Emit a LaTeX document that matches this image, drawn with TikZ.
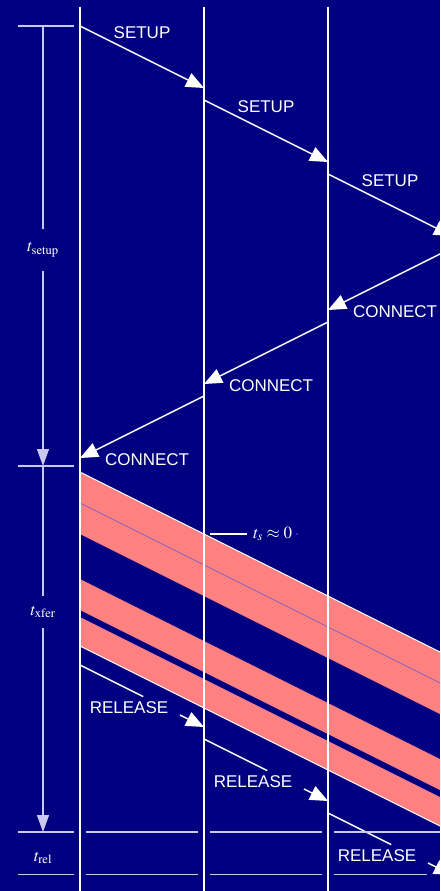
\documentclass[tikz,border=0pt]{standalone}
\usepackage{mathptmx}
\usepackage[no-math]{fontspec}
\setsansfont{Liberation Sans}
\usetikzlibrary{arrows.meta,calc}
\definecolor{bg}{RGB}{0,0,128}
\definecolor{band}{RGB}{255,128,128}
\definecolor{thinln}{RGB}{90,90,210}
\definecolor{axcol}{RGB}{200,200,240}
\tikzset{>={Triangle[length=18pt,width=15pt]},
  msg/.style={white,line width=1.4pt},col/.style={white,line width=1.5pt},
  lbl/.style={text=white,font=\sffamily\fontsize{17}{20}\selectfont},
  tlbl/.style={text=white,font=\fontsize{17}{20}\selectfont,inner sep=0pt},
  ax/.style={axcol,line width=1.3pt,-{Triangle[length=17pt,width=12pt]}},
  axl/.style={axcol,line width=1.3pt},tk/.style={axcol,line width=1.2pt}}
\newcommand{\relmsg}[2]{\draw[msg] (#1)--($(#1)!.51!(#2)$);\draw[msg,->] ($(#1)!.806!(#2)$)--(#2);
  \node[lbl] at ($(#1)+(49,43)$) {RELEASE};}

\begin{document}
\begin{tikzpicture}[x=1pt,y=-1pt]
\useasboundingbox (0,0) rectangle (440,891);\clip (0,0) rectangle (440,891);
\fill[bg] (0,0) rectangle (440,891);
% data bands
\fill[band] (80,472)--(452,658)--(452,720)--(80,534)--cycle;
\fill[band] (80,579)--(452,765)--(452,796)--(80,610)--cycle;
\fill[band] (80,617)--(452,803)--(452,832)--(80,646)--cycle;
\draw[thinln,line width=.5pt] (80,503)--(452,689);
\draw[white,line width=1pt] (80,472)--(452,658) (80,646)--(452,832);
% switches
\foreach \x/\n in {80/A,204/B,328/C,452/D}{\coordinate (\n0) at (\x,7);\coordinate (\n1) at (\x,891);}
\draw[col] (A0)--(A1) (B0)--(B1) (C0)--(C1);
% setup / connect
\coordinate (s1) at (80,26);\coordinate (s2) at (204,88);\coordinate (s3) at (204,100);
\coordinate (s4) at (328,162);\coordinate (s5) at (328,174);\coordinate (s6) at (452,236);
\draw[msg,->] (s1)--(s2) node[midway,yshift=24pt,lbl]{SETUP};
\draw[msg,->] (s3)--(s4) node[midway,yshift=24pt,lbl]{SETUP};
\draw[msg,->] (s5)--(s6) node[midway,yshift=24pt,lbl]{SETUP};
\coordinate (c1) at (452,248);\coordinate (c2) at (328,310);\coordinate (c3) at (328,322);
\coordinate (c4) at (204,384);\coordinate (c5) at (204,396);\coordinate (c6) at (80,458);
\draw[msg,->] (c1)--(c2) node[pos=1,anchor=west,xshift=21pt,yshift=-1.5pt,lbl]{CONNECT};
\draw[msg,->] (c3)--(c4) node[pos=1,anchor=west,xshift=21pt,yshift=-1.5pt,lbl]{CONNECT};
\draw[msg,->] (c5)--(c6) node[pos=1,anchor=west,xshift=21pt,yshift=-1.5pt,lbl]{CONNECT};
% release
\coordinate (r1) at (80,665);\coordinate (r2) at (204,727);\coordinate (r3) at (204,739);
\coordinate (r4) at (328,801);\coordinate (r5) at (328,813);\coordinate (r6) at (452,875);
\relmsg{r1}{r2}\relmsg{r3}{r4}\relmsg{r5}{r6}
% time axis
\coordinate (t0) at (43,26);\coordinate (t1) at (43,466);\coordinate (t2) at (43,832);
\node[tlbl,minimum height=42pt] (ls) at (43,250) {$t_{\mathrm{setup}}$};
\node[tlbl,minimum height=32pt] (lx) at (43,612) {$t_{\mathrm{xfer}}$};
\node[tlbl] (lr) at (43,858) {$t_{\mathrm{rel}}$};
\draw[axl] (t0)--(ls);\draw[ax] (ls)--(t1);\draw[axl] (t1)--(lx);\draw[ax] (lx)--(t2);
\foreach \y in {26,466,832,874.5} \draw[tk] (18,\y)--(74,\y);
\foreach \y in {832,874.5} {\draw[tk] (86,\y)--(198,\y);\draw[tk] (210,\y)--(322,\y);}
\draw[tk] (334,832)--(446,832);\draw[tk] (334,874.5)--(427,874.5);
% propagation delay
\coordinate (tsb) at (210,534);
\node[tlbl,anchor=west,inner sep=4pt] (ts) at (249,534) {$t_s\approx 0$};
\draw[white,line width=1.2pt,shorten >=2pt] (tsb)--(ts);\fill[axcol] (297,534) circle(.7);
\end{tikzpicture}
\end{document}
